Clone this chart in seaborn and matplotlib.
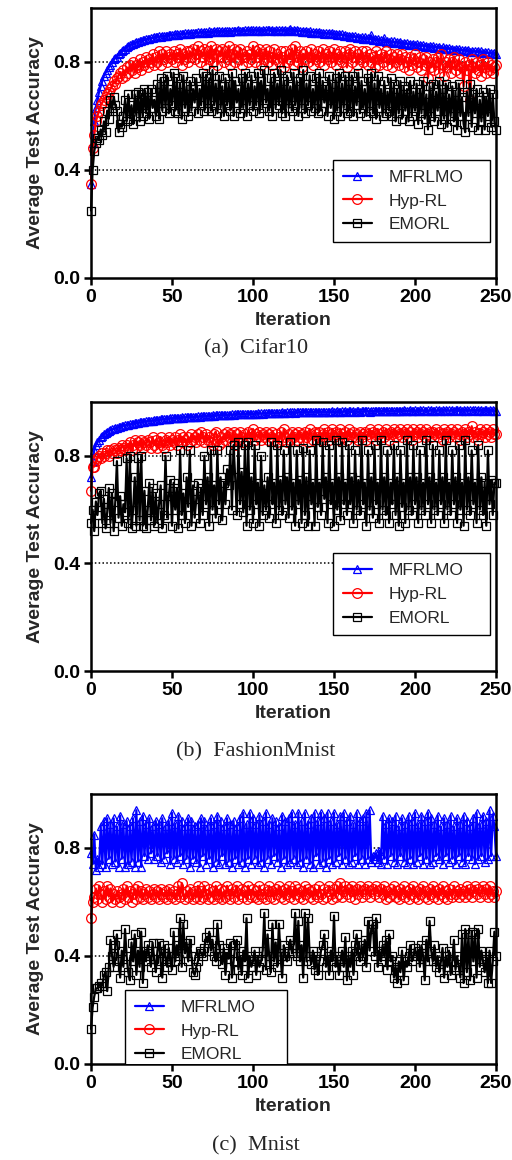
import numpy as np
import pandas as pd
import matplotlib
matplotlib.use("Agg")
import matplotlib.pyplot as plt
import seaborn as sns

# ---------------- data ----------------
labels = ["MFRLMO", "Hyp-RL", "EMORL"]
captions = ["(a)  Cifar10", "(b)  FashionMnist", "(c)  Mnist"]
yticks = [0.0, 0.4, 0.8]
xticks = [0, 50, 100, 150, 200, 250]

a_mf = [.35,.50,.58,.63,.66,.69,.71,.73,.75,.76,
        .77,.78,.79,.80,.81,.815,.82,.83,.835,.84,
        .845,.85,.855,.86,.862,.865,.868,.87,.873,.875,
        .877,.879,.88,.882,.884,.885,.887,.888,.89,.891,
        .892,.893,.895,.894,.896,.897,.898,.896,.899,.90,
        .901,.90,.902,.903,.901,.904,.905,.903,.906,.905,
        .907,.905,.908,.906,.909,.907,.91,.908,.911,.909,
        .91,.912,.909,.913,.91,.912,.914,.91,.913,.915,
        .911,.914,.912,.915,.913,.916,.912,.915,.913,.916,
        .914,.917,.913,.916,.914,.918,.915,.917,.914,.918,
        .92,.916,.918,.915,.919,.916,.918,.915,.919,.917,
        .918,.915,.92,.916,.918,.914,.919,.916,.917,.915,
        .918,.914,.917,.922,.916,.918,.914,.917,.913,.916,
        .912,.915,.911,.914,.91,.913,.909,.912,.908,.911,
        .907,.91,.906,.909,.905,.908,.904,.907,.903,.906,
        .902,.905,.90,.903,.899,.902,.897,.90,.895,.898,
        .894,.897,.892,.896,.89,.894,.889,.893,.887,.891,
        .886,.89,.884,.899,.883,.887,.881,.885,.879,.883,
        .877,.888,.875,.879,.873,.877,.871,.876,.87,.874,
        .869,.873,.868,.872,.866,.87,.864,.868,.863,.867,
        .862,.866,.86,.864,.859,.863,.857,.861,.856,.86,
        .855,.859,.853,.857,.852,.856,.85,.854,.849,.853,
        .848,.852,.846,.85,.845,.849,.844,.848,.842,.846,
        .841,.845,.84,.843,.838,.842,.838,.841,.836,.84,
        .835,.839,.833,.837,.832,.836,.83,.834,.829,.833,
        .828]

a_hy = [.35,.48,.53,.58,.60,.62,.64,.65,.66,.67,
        .68,.69,.70,.71,.73,.72,.74,.75,.76,.74,
        .77,.75,.78,.76,.79,.77,.80,.76,.79,.78,
        .81,.77,.80,.79,.82,.78,.81,.80,.83,.79,
        .82,.80,.84,.79,.83,.81,.84,.80,.82,.83,
        .81,.84,.80,.83,.82,.85,.79,.83,.81,.84,
        .80,.84,.82,.85,.81,.83,.86,.80,.84,.82,
        .85,.79,.84,.81,.86,.80,.83,.85,.79,.84,
        .82,.85,.80,.84,.81,.86,.79,.83,.85,.80,
        .84,.81,.85,.79,.83,.82,.84,.80,.83,.81,
        .86,.80,.84,.82,.85,.79,.83,.81,.85,.80,
        .84,.82,.79,.85,.81,.83,.80,.84,.82,.78,
        .84,.80,.83,.81,.85,.79,.86,.82,.80,.84,
        .78,.83,.81,.84,.80,.82,.85,.79,.83,.81,
        .84,.80,.82,.85,.79,.83,.81,.84,.80,.82,
        .85,.79,.83,.81,.84,.80,.82,.84,.78,.83,
        .85,.80,.82,.84,.79,.83,.81,.84,.80,.82,
        .84,.79,.83,.80,.82,.78,.84,.81,.79,.83,
        .80,.82,.84,.79,.81,.83,.78,.82,.80,.83,
        .79,.81,.83,.78,.82,.80,.77,.82,.79,.81,
        .83,.78,.80,.82,.77,.81,.79,.82,.74,.80,
        .78,.81,.77,.80,.82,.76,.83,.79,.75,.80,
        .78,.81,.76,.80,.82,.77,.79,.81,.76,.78,
        .71,.80,.77,.79,.66,.81,.78,.76,.80,.77,
        .79,.75,.81,.78,.76,.80,.77,.79,.76,.78,
        .79]

a_em = [.25,.40,.47,.50,.52,.51,.55,.53,.58,.54,
        .62,.59,.66,.63,.67,.64,.62,.54,.57,.56,
        .60,.66,.58,.68,.59,.64,.57,.68,.60,.69,
        .58,.68,.60,.70,.61,.69,.59,.70,.63,.66,
        .60,.72,.59,.74,.62,.73,.63,.75,.61,.70,
        .64,.76,.62,.74,.61,.72,.59,.75,.63,.71,
        .60,.73,.62,.70,.65,.74,.61,.70,.64,.76,
        .62,.75,.63,.74,.62,.77,.64,.72,.61,.75,
        .63,.71,.60,.74,.64,.72,.62,.76,.60,.73,
        .65,.70,.61,.74,.63,.76,.60,.72,.64,.75,
        .62,.71,.64,.76,.61,.73,.63,.77,.65,.70,
        .62,.74,.60,.76,.63,.72,.64,.77,.61,.73,
        .60,.75,.63,.71,.62,.76,.64,.73,.60,.74,
        .63,.77,.61,.72,.64,.75,.62,.70,.63,.74,
        .61,.76,.62,.73,.65,.71,.60,.75,.63,.72,
        .59,.74,.62,.76,.60,.72,.63,.75,.61,.73,
        .62,.75,.60,.71,.64,.76,.61,.73,.63,.70,
        .60,.74,.62,.76,.61,.72,.59,.75,.63,.70,
        .60,.73,.61,.69,.62,.74,.60,.72,.58,.70,
        .61,.73,.59,.71,.62,.70,.58,.73,.60,.69,
        .62,.72,.57,.70,.61,.73,.59,.68,.55,.71,
        .60,.72,.58,.69,.62,.73,.57,.70,.59,.72,
        .56,.68,.60,.71,.58,.69,.55,.72,.60,.67,
        .57,.54,.69,.60,.72,.56,.68,.61,.70,.55,
        .66,.58,.69,.55,.67,.60,.70,.56,.68,.58,
        .55]

b_mf = [.72,.78,.82,.84,.85,.86,.87,.875,.88,.885,
        .89,.893,.895,.898,.90,.902,.905,.906,.908,.91,
        .912,.913,.915,.916,.917,.918,.92,.921,.922,.923,
        .924,.925,.926,.927,.928,.929,.93,.931,.931,.932,
        .933,.934,.934,.935,.936,.936,.937,.938,.938,.939,
        .94,.939,.941,.94,.942,.941,.943,.942,.943,.944,
        .943,.945,.944,.945,.946,.945,.947,.946,.947,.948,
        .947,.948,.949,.948,.949,.95,.949,.95,.951,.95,
        .951,.952,.951,.952,.953,.952,.953,.954,.953,.954,
        .954,.955,.954,.955,.956,.955,.956,.955,.957,.956,
        .957,.956,.957,.958,.957,.958,.957,.959,.958,.958,
        .959,.958,.959,.96,.959,.96,.959,.96,.961,.96,
        .96,.961,.96,.961,.962,.961,.96,.962,.961,.962,
        .961,.962,.963,.962,.961,.963,.962,.963,.962,.964,
        .963,.962,.964,.963,.964,.963,.962,.964,.963,.965,
        .964,.963,.965,.964,.963,.965,.964,.966,.964,.965,
        .966,.964,.965,.963,.966,.965,.964,.966,.965,.967,
        .965,.966,.964,.967,.966,.965,.967,.966,.965,.967,
        .966,.968,.965,.967,.966,.968,.967,.966,.968,.967,
        .966,.968,.967,.969,.966,.968,.967,.969,.968,.967,
        .969,.967,.968,.97,.967,.969,.968,.967,.969,.968,
        .97,.968,.967,.969,.968,.97,.967,.969,.968,.97,
        .968,.969,.967,.97,.968,.969,.97,.968,.969,.967,
        .97,.968,.969,.967,.97,.968,.969,.97,.968,.969,
        .967,.97,.968,.969,.97,.968,.969,.967,.97,.968,
        .965]

b_hy = [.67,.76,.76,.78,.79,.80,.79,.81,.80,.81,
        .82,.80,.82,.81,.83,.82,.81,.83,.82,.84,
        .83,.82,.84,.83,.85,.82,.84,.86,.83,.85,
        .84,.86,.83,.85,.84,.86,.85,.83,.87,.84,
        .86,.83,.85,.87,.84,.83,.86,.85,.87,.84,
        .86,.85,.87,.84,.86,.88,.85,.87,.86,.84,
        .87,.85,.88,.86,.87,.85,.88,.86,.89,.87,
        .85,.88,.86,.87,.85,.84,.88,.89,.86,.84,
        .87,.85,.88,.86,.89,.87,.88,.85,.89,.84,
        .88,.86,.89,.87,.85,.88,.86,.89,.87,.88,
        .90,.86,.88,.87,.89,.86,.88,.87,.89,.86,
        .88,.87,.89,.86,.88,.85,.87,.89,.86,.90,
        .87,.85,.88,.86,.89,.87,.88,.86,.89,.87,
        .88,.86,.89,.87,.85,.90,.88,.86,.89,.88,
        .87,.89,.86,.88,.90,.87,.89,.86,.88,.90,
        .87,.89,.88,.86,.90,.88,.87,.89,.86,.90,
        .88,.87,.89,.87,.88,.86,.89,.87,.88,.89,
        .86,.88,.90,.87,.89,.88,.86,.90,.88,.87,
        .89,.87,.90,.88,.86,.89,.88,.90,.87,.89,
        .88,.90,.87,.89,.88,.90,.87,.89,.86,.90,
        .88,.89,.87,.90,.88,.89,.87,.90,.88,.89,
        .87,.89,.88,.90,.87,.89,.88,.86,.90,.88,
        .89,.87,.90,.88,.89,.87,.90,.88,.86,.89,
        .88,.90,.87,.89,.88,.91,.87,.89,.88,.86,
        .90,.88,.89,.87,.90,.88,.89,.87,.90,.88,
        .88]

b_em = [.55,.60,.52,.63,.58,.66,.67,.55,.64,.53,
        .59,.68,.55,.66,.52,.63,.78,.57,.65,.54,
        .62,.59,.79,.55,.80,.53,.60,.72,.54,.79,
        .56,.80,.54,.67,.53,.60,.70,.56,.68,.54,
        .66,.55,.62,.69,.53,.58,.80,.57,.65,.71,
        .54,.70,.60,.68,.53,.82,.58,.66,.55,.72,
        .61,.82,.54,.69,.57,.64,.70,.55,.68,.58,
        .80,.62,.72,.54,.82,.60,.69,.57,.82,.62,
        .72,.56,.70,.62,.75,.69,.82,.60,.84,.72,
        .58,.85,.62,.74,.59,.84,.54,.85,.60,.72,
        .55,.84,.62,.70,.54,.80,.58,.69,.60,.72,
        .57,.85,.62,.70,.55,.84,.60,.71,.58,.82,
        .62,.72,.57,.85,.60,.70,.54,.82,.62,.71,
        .55,.83,.58,.72,.54,.82,.62,.70,.54,.86,
        .61,.70,.58,.85,.64,.72,.55,.84,.62,.70,
        .54,.86,.60,.72,.56,.85,.62,.70,.58,.84,
        .62,.72,.55,.82,.60,.71,.58,.86,.62,.70,
        .54,.82,.60,.72,.57,.84,.62,.70,.55,.86,
        .60,.72,.58,.82,.55,.70,.62,.84,.58,.72,
        .54,.82,.61,.70,.55,.86,.60,.72,.58,.84,
        .62,.72,.55,.82,.60,.70,.58,.86,.62,.72,
        .55,.84,.60,.70,.58,.82,.62,.72,.55,.86,
        .60,.70,.58,.82,.62,.72,.55,.84,.60,.70,
        .54,.86,.60,.72,.58,.82,.62,.70,.55,.84,
        .60,.72,.58,.70,.54,.82,.62,.71,.58,.70,
        .70]

c_mf = [.78,.74,.85,.72,.76,.73,.88,.74,.90,.73,
        .91,.76,.89,.74,.91,.75,.88,.73,.92,.76,
        .89,.73,.90,.74,.88,.75,.91,.73,.94,.75,
        .90,.73,.92,.77,.89,.76,.91,.78,.88,.76,
        .90,.77,.89,.75,.91,.76,.88,.78,.90,.74,
        .93,.76,.89,.75,.92,.77,.90,.74,.88,.76,
        .91,.73,.90,.76,.88,.75,.89,.73,.91,.77,
        .90,.74,.88,.76,.91,.73,.89,.75,.92,.74,
        .90,.77,.88,.74,.91,.75,.89,.73,.90,.76,
        .88,.74,.91,.75,.93,.73,.89,.76,.93,.74,
        .91,.76,.89,.74,.92,.75,.90,.73,.93,.76,
        .89,.74,.91,.77,.90,.75,.88,.73,.92,.76,
        .90,.74,.91,.75,.93,.76,.89,.74,.93,.75,
        .90,.73,.93,.76,.89,.74,.91,.73,.93,.77,
        .90,.74,.93,.75,.91,.73,.93,.76,.90,.74,
        .93,.75,.89,.77,.92,.74,.93,.76,.90,.74,
        .92,.75,.89,.77,.93,.74,.90,.76,.91,.74,
        .93,.76,.94,.75,.77,.76,.78,.75,.79,.74,
        .92,.76,.89,.74,.91,.77,.90,.75,.92,.74,
        .88,.77,.91,.75,.89,.74,.92,.76,.90,.74,
        .93,.75,.89,.77,.92,.74,.90,.76,.93,.74,
        .91,.75,.89,.77,.92,.76,.88,.74,.91,.77,
        .89,.75,.92,.76,.88,.74,.91,.77,.89,.75,
        .92,.74,.90,.77,.88,.76,.91,.74,.93,.76,
        .89,.77,.92,.75,.90,.76,.94,.77,.92,.88,
        .77]

c_hy = [.54,.60,.62,.65,.61,.66,.63,.60,.64,.61,
        .66,.62,.65,.60,.63,.61,.64,.62,.60,.63,
        .65,.61,.66,.62,.64,.60,.63,.65,.61,.66,
        .62,.64,.61,.63,.65,.62,.64,.61,.63,.65,
        .62,.64,.61,.65,.63,.62,.64,.61,.65,.63,
        .62,.64,.61,.63,.66,.62,.67,.63,.61,.64,
        .62,.65,.63,.61,.64,.62,.66,.61,.64,.62,
        .66,.63,.61,.65,.62,.64,.61,.66,.63,.62,
        .65,.61,.64,.62,.66,.63,.61,.65,.62,.64,
        .66,.61,.63,.65,.62,.64,.61,.66,.63,.62,
        .65,.62,.64,.61,.66,.63,.62,.65,.61,.64,
        .66,.62,.64,.61,.65,.63,.66,.62,.64,.61,
        .65,.63,.66,.62,.64,.61,.66,.63,.65,.62,
        .64,.61,.66,.63,.65,.62,.64,.61,.65,.63,
        .62,.66,.63,.61,.65,.62,.64,.66,.63,.61,
        .65,.62,.66,.63,.67,.62,.64,.66,.63,.65,
        .62,.66,.64,.61,.65,.63,.66,.62,.64,.65,
        .63,.66,.62,.64,.65,.63,.66,.64,.62,.65,
        .63,.66,.61,.64,.62,.65,.63,.66,.62,.64,
        .61,.65,.63,.66,.62,.64,.61,.65,.63,.66,
        .62,.64,.61,.65,.63,.66,.62,.64,.61,.65,
        .63,.66,.62,.64,.61,.65,.63,.66,.62,.64,
        .61,.65,.63,.62,.66,.63,.64,.62,.65,.63,
        .64,.62,.66,.63,.65,.62,.64,.66,.63,.65,
        .62,.64,.66,.63,.65,.62,.66,.63,.64,.62,
        .64]

c_em = [.13,.21,.25,.28,.28,.29,.30,.29,.33,.34,
        .27,.36,.46,.40,.36,.44,.48,.38,.32,.42,
        .36,.50,.40,.34,.31,.45,.38,.48,.33,.42,
        .36,.49,.30,.42,.38,.44,.40,.36,.45,.39,
        .34,.42,.45,.38,.32,.44,.40,.36,.43,.38,
        .35,.49,.38,.44,.40,.54,.36,.52,.41,.45,
        .38,.46,.40,.34,.33,.36,.38,.42,.41,.40,
        .43,.47,.45,.49,.42,.46,.40,.38,.52,.44,
        .40,.37,.43,.33,.41,.39,.45,.32,.38,.44,
        .46,.35,.40,.33,.42,.38,.54,.32,.40,.36,
        .38,.42,.33,.40,.36,.38,.42,.56,.35,.48,
        .40,.34,.52,.38,.45,.36,.52,.40,.32,.44,
        .40,.38,.42,.46,.41,.44,.56,.40,.53,.38,
        .44,.32,.56,.38,.54,.40,.37,.42,.35,.40,
        .33,.38,.42,.44,.48,.36,.40,.33,.42,.38,
        .55,.36,.40,.33,.38,.42,.36,.47,.31,.40,
        .36,.42,.33,.44,.48,.40,.38,.44,.40,.46,
        .36,.53,.42,.50,.52,.40,.54,.36,.42,.38,
        .44,.40,.46,.35,.48,.38,.40,.32,.36,.30,
        .38,.34,.42,.31,.38,.36,.40,.44,.38,.40,
        .43,.40,.42,.36,.44,.40,.31,.46,.38,.53,
        .42,.38,.44,.36,.40,.34,.38,.43,.32,.40,
        .36,.42,.33,.38,.46,.35,.40,.36,.32,.48,
        .30,.50,.34,.48,.31,.49,.38,.48,.32,.50,
        .36,.42,.38,.34,.40,.30,.42,.30,.38,.49,
        .40]

panels = [(a_mf, a_hy, a_em), (b_mf, b_hy, b_em), (c_mf, c_hy, c_em)]
for p in panels:
    for s in p:
        assert len(s) == 251, len(s)

# ---------------- styling ----------------
sns.set_theme(style="ticks")
plt.rcParams['font.family'] = ['Liberation Sans', 'DejaVu Sans']

colors = ["#0000ff", "#ff0000", "#000000"]
markers = ["^", "o", "s"]
msizes = [6.0, 7.0, 5.5]

W, H = 512, 1160
fig = plt.figure(figsize=(W / 100, H / 100), dpi=100)

# axes boxes in pixels: (top, bottom)
boxes = [(8, 278), (402, 671), (794, 1064)]
left_px, right_px = 91, 496
cap_y = [349, 752, 1146]
# legend anchor boxes in axes fraction: (x0, y0, width, height), upper-left anchored
legend_boxes = [
    (0.598, 0.13, 0.387, 0.307),
    (0.598, 0.13, 0.387, 0.307),
    (0.084, 0.0, 0.40, 0.274),
]

for i, (data, (top, bot)) in enumerate(zip(panels, boxes)):
    ax = fig.add_axes([left_px / W, 1 - bot / H, (right_px - left_px) / W, (bot - top) / H])
    df = pd.DataFrame({"Iteration": np.arange(251),
                       labels[0]: data[0], labels[1]: data[1], labels[2]: data[2]})
    for lab, c, m, ms in zip(labels, colors, markers, msizes):
        sns.lineplot(data=df, x="Iteration", y=lab, ax=ax, color=c, marker=m,
                     markersize=ms, markerfacecolor="none", markeredgecolor=c,
                     markeredgewidth=0.9, linewidth=1.6, label=lab,
                     errorbar=None, clip_on=False)
    for yv in (0.4, 0.8):
        ax.axhline(yv, xmin=0, xmax=0.985, color="black", linestyle=(0, (1, 1.5)),
                   linewidth=1.1, zorder=0.5)
    ax.set_xlim(0, 250)
    ax.set_ylim(0, 1.0)
    ax.set_xticks(xticks)
    ax.set_yticks(yticks)
    ax.set_yticklabels([f"{v:.1f}" for v in yticks])
    for sp in ax.spines.values():
        sp.set_visible(True)
        sp.set_linewidth(1.8)
        sp.set_color("black")
        sp.set_zorder(5)
    ax.tick_params(axis="both", direction="out", length=5, width=1.8,
                   labelsize=14, pad=3, colors="black")
    for t in ax.get_xticklabels() + ax.get_yticklabels():
        t.set_fontweight("bold")
    ax.set_xlabel("Iteration", fontsize=14, fontweight="bold", labelpad=4)
    ax.set_ylabel("Average Test Accuracy", fontsize=14, fontweight="bold", labelpad=6)
    leg = ax.legend(fontsize=12.5, frameon=True, fancybox=False, edgecolor="black",
                    framealpha=1, borderpad=0.55, labelspacing=0.5,
                    handlelength=1.7, handletextpad=0.95, borderaxespad=0,
                    numpoints=1, loc="upper left", mode="expand",
                    bbox_to_anchor=legend_boxes[i])
    leg.get_frame().set_linewidth(1.0)
    if i == 2:
        leg.legendPatch.set_clip_box(ax.bbox)
        leg.legendPatch.set_clip_on(True)
    fig.text(0.5, 1 - cap_y[i] / H, captions[i], ha="center", va="center",
             fontsize=16, family="Liberation Serif")

fig.savefig("out.png", dpi=100)
